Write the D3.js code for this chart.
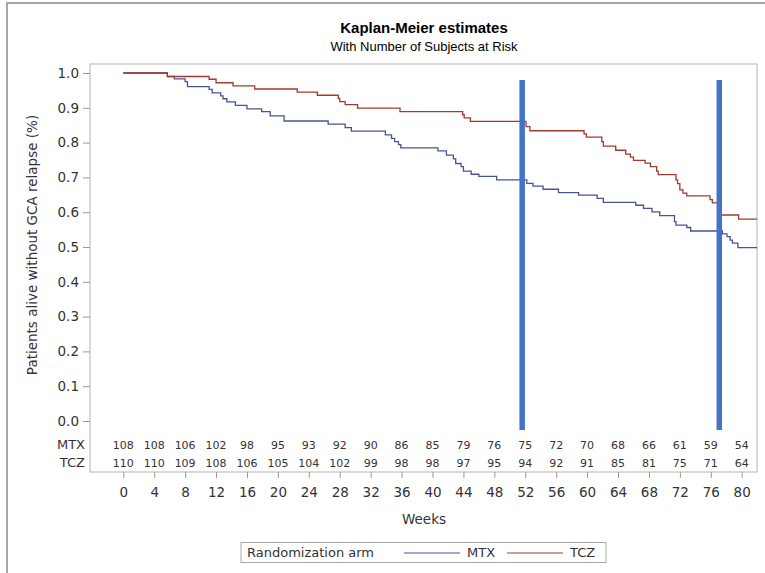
<!DOCTYPE html>
<html>
<head>
<meta charset="utf-8">
<script src="https://cdn.jsdelivr.net/npm/d3@7"></script>
<style>
  body { margin: 0; background: #fff; }
  text { fill: #333; }
</style>
</head>
<body>
<script>
// step points: week of event, survival after the step
var mtxWeeks = [0, 5.7, 6.6, 8.0, 8.3, 11.1, 11.5, 12.6, 12.9, 13.4, 14.5, 16.0, 17.9, 19.0, 20.8,
    26.5, 28.7, 29.5, 33.9, 34.7, 35.1, 35.6, 35.9, 40.7, 41.8, 42.7, 43.0, 43.7, 44.0, 45.0,
    46.0, 48.3, 52.2, 53.0, 54.3, 56.3, 58.9, 61.3, 62.1, 66.3, 67.3, 68.4, 69.4, 71.3, 71.5,
    72.9, 73.4, 77.5, 78.1, 78.5, 78.8, 79.5, 82];
var mtxSurv = [1.0, 0.990, 0.983, 0.975, 0.961, 0.953, 0.943, 0.934, 0.926, 0.917, 0.907, 0.897, 0.889, 0.877, 0.862,
    0.853, 0.843, 0.833, 0.822, 0.812, 0.803, 0.794, 0.785, 0.776, 0.764, 0.753, 0.740, 0.731, 0.718, 0.709,
    0.703, 0.693, 0.683, 0.675, 0.666, 0.656, 0.649, 0.640, 0.628, 0.620, 0.611, 0.601, 0.590, 0.573, 0.563,
    0.556, 0.546, 0.538, 0.530, 0.520, 0.511, 0.498, 0.498];

var tczWeeks = [0, 5.7, 11.1, 12.0, 14.2, 17.0, 22.5, 25.1, 27.8, 28.0, 28.7, 30.3, 35.8, 43.9, 44.1,
    44.9, 52.1, 52.6, 59.6, 59.9, 61.9, 62.1, 63.7, 65.0, 65.6, 66.0, 67.5, 68.2, 69.0, 69.2,
    71.5, 71.7, 72.0, 72.4, 72.9, 75.9, 76.2, 77.0, 79.6, 82];
var tczSurv = [1.0, 0.990, 0.982, 0.972, 0.963, 0.954, 0.945, 0.936, 0.927, 0.918, 0.909, 0.899, 0.889, 0.880, 0.871,
    0.861, 0.846, 0.834, 0.825, 0.816, 0.803, 0.790, 0.778, 0.767, 0.758, 0.749, 0.741, 0.731, 0.718, 0.708,
    0.693, 0.682, 0.664, 0.655, 0.647, 0.636, 0.627, 0.592, 0.580, 0.580];

// number at risk
var riskWeeks = [0, 4, 8, 12, 16, 20, 24, 28, 32, 36, 40, 44, 48, 52, 56, 60, 64, 68, 72, 76, 80];
var mtxRisk = [108, 108, 106, 102, 98, 95, 93, 92, 90, 86, 85, 79, 76, 75, 72, 70, 68, 66, 61, 59, 54];
var tczRisk = [110, 110, 109, 108, 106, 105, 104, 102, 99, 98, 98, 97, 95, 94, 92, 91, 85, 81, 75, 71, 64];

var yTicks = [0, 0.1, 0.2, 0.3, 0.4, 0.5, 0.6, 0.7, 0.8, 0.9, 1.0];
var markerWeeks = [51.6, 77.1];   // blue highlight bars

var width = 765, height = 573;
var frame = { left: 90, right: 757, top: 64, bottom: 472 };

var svg = d3.select("body").append("svg")
    .attr("width", width)
    .attr("height", height);

// outer border
svg.append("path")
    .attr("d", "M7,600 V3 H800")
    .attr("fill", "none")
    .attr("stroke", "#a8a8a8")
    .attr("stroke-width", 2);

var x = d3.scaleLinear().domain([0, 80]).range([123.3, 741.7]);
var y = d3.scaleLinear().domain([0, 1]).range([421, 73]);

// titles
svg.append("text")
    .attr("x", 424).attr("y", 33)
    .attr("text-anchor", "middle")
    .style("font", "bold 15px 'Liberation Sans', Arial, sans-serif")
    .style("fill", "#000")
    .text("Kaplan-Meier estimates");
svg.append("text")
    .attr("x", 424).attr("y", 51)
    .attr("text-anchor", "middle")
    .style("font", "13px 'Liberation Sans', Arial, sans-serif")
    .style("fill", "#000")
    .text("With Number of Subjects at Risk");

// frame
svg.append("rect")
    .attr("x", frame.left).attr("y", frame.top)
    .attr("width", frame.right - frame.left)
    .attr("height", frame.bottom - frame.top)
    .attr("fill", "none")
    .attr("stroke", "#b4b4b4");

// y axis
var yAxis = d3.axisLeft(y).tickValues(yTicks).tickFormat(d3.format(".1f")).tickSize(7).tickPadding(4);
var gy = svg.append("g")
    .attr("transform", "translate(" + frame.left + ",0)")
    .call(yAxis);
gy.select(".domain").remove();
gy.selectAll("line").attr("stroke", "#9a9a9a");
gy.selectAll("text").style("font", "13.5px 'DejaVu Sans', sans-serif").style("fill", "#333");

// x axis
var xAxis = d3.axisBottom(x).tickValues(riskWeeks).tickSize(6).tickPadding(9);
var gx = svg.append("g")
    .attr("transform", "translate(0," + frame.bottom + ")")
    .call(xAxis);
gx.select(".domain").remove();
gx.selectAll("line").attr("stroke", "#9a9a9a");
gx.selectAll("text").style("font", "13.5px 'DejaVu Sans', sans-serif").style("fill", "#333");

svg.append("text")
    .attr("x", 424).attr("y", 524)
    .attr("text-anchor", "middle")
    .style("font", "13.5px 'DejaVu Sans', sans-serif")
    .text("Weeks");

svg.append("text")
    .attr("transform", "translate(37,245) rotate(-90)")
    .attr("text-anchor", "middle")
    .style("font", "13.5px 'DejaVu Sans', sans-serif")
    .text("Patients alive without GCA relapse (%)");

// curves
var line = d3.line()
    .x(function (d) { return x(d[0]); })
    .y(function (d) { return y(d[1]); })
    .curve(d3.curveStepAfter);

var series = [
    { name: "MTX", color: "#445694", pts: d3.zip(mtxWeeks, mtxSurv) },
    { name: "TCZ", color: "#A23A2E", pts: d3.zip(tczWeeks, tczSurv) }
];

svg.selectAll(".km")
    .data(series)
    .enter()
    .append("path")
    .attr("class", "km")
    .attr("d", function (d) { return line(d.pts); })
    .attr("fill", "none")
    .attr("stroke", function (d) { return d.color; })
    .attr("stroke-width", 1.3);

// at-risk rows
var rows = [
    { name: "MTX", vals: mtxRisk, yy: 449 },
    { name: "TCZ", vals: tczRisk, yy: 467 }
];
rows.forEach(function (r) {
    svg.append("text")
        .attr("x", 85).attr("y", r.yy)
        .attr("text-anchor", "end")
        .style("font", "13px 'DejaVu Sans', sans-serif")
        .text(r.name);
    svg.selectAll(".risk-" + r.name)
        .data(r.vals)
        .enter()
        .append("text")
        .attr("x", function (d, i) { return x(riskWeeks[i]); })
        .attr("y", r.yy)
        .attr("text-anchor", "middle")
        .style("font", "11px 'DejaVu Sans', sans-serif")
        .text(function (d) { return d; });
});

// highlight bars
svg.selectAll(".marker")
    .data(markerWeeks)
    .enter()
    .append("line")
    .attr("x1", function (d) { return x(d); })
    .attr("x2", function (d) { return x(d); })
    .attr("y1", 80).attr("y2", 430)
    .attr("stroke", "#4472C4")
    .attr("stroke-width", 5.5);

// legend
var lg = svg.append("g");
lg.append("rect")
    .attr("x", 241).attr("y", 542.5)
    .attr("width", 365).attr("height", 20)
    .attr("fill", "#fff")
    .attr("stroke", "#a8a8a8");
lg.append("text")
    .attr("x", 247).attr("y", 557)
    .style("font", "13px 'DejaVu Sans', sans-serif")
    .text("Randomization arm");
var legendItems = [
    { name: "MTX", color: "#445694", x0: 404 },
    { name: "TCZ", color: "#A23A2E", x0: 507 }
];
legendItems.forEach(function (it) {
    lg.append("line")
        .attr("x1", it.x0).attr("x2", it.x0 + 56)
        .attr("y1", 553).attr("y2", 553)
        .attr("stroke", it.color).attr("stroke-width", 1.2);
    lg.append("text")
        .attr("x", it.x0 + 63).attr("y", 557)
        .style("font", "13px 'DejaVu Sans', sans-serif")
        .text(it.name);
});
</script>
</body>
</html>
